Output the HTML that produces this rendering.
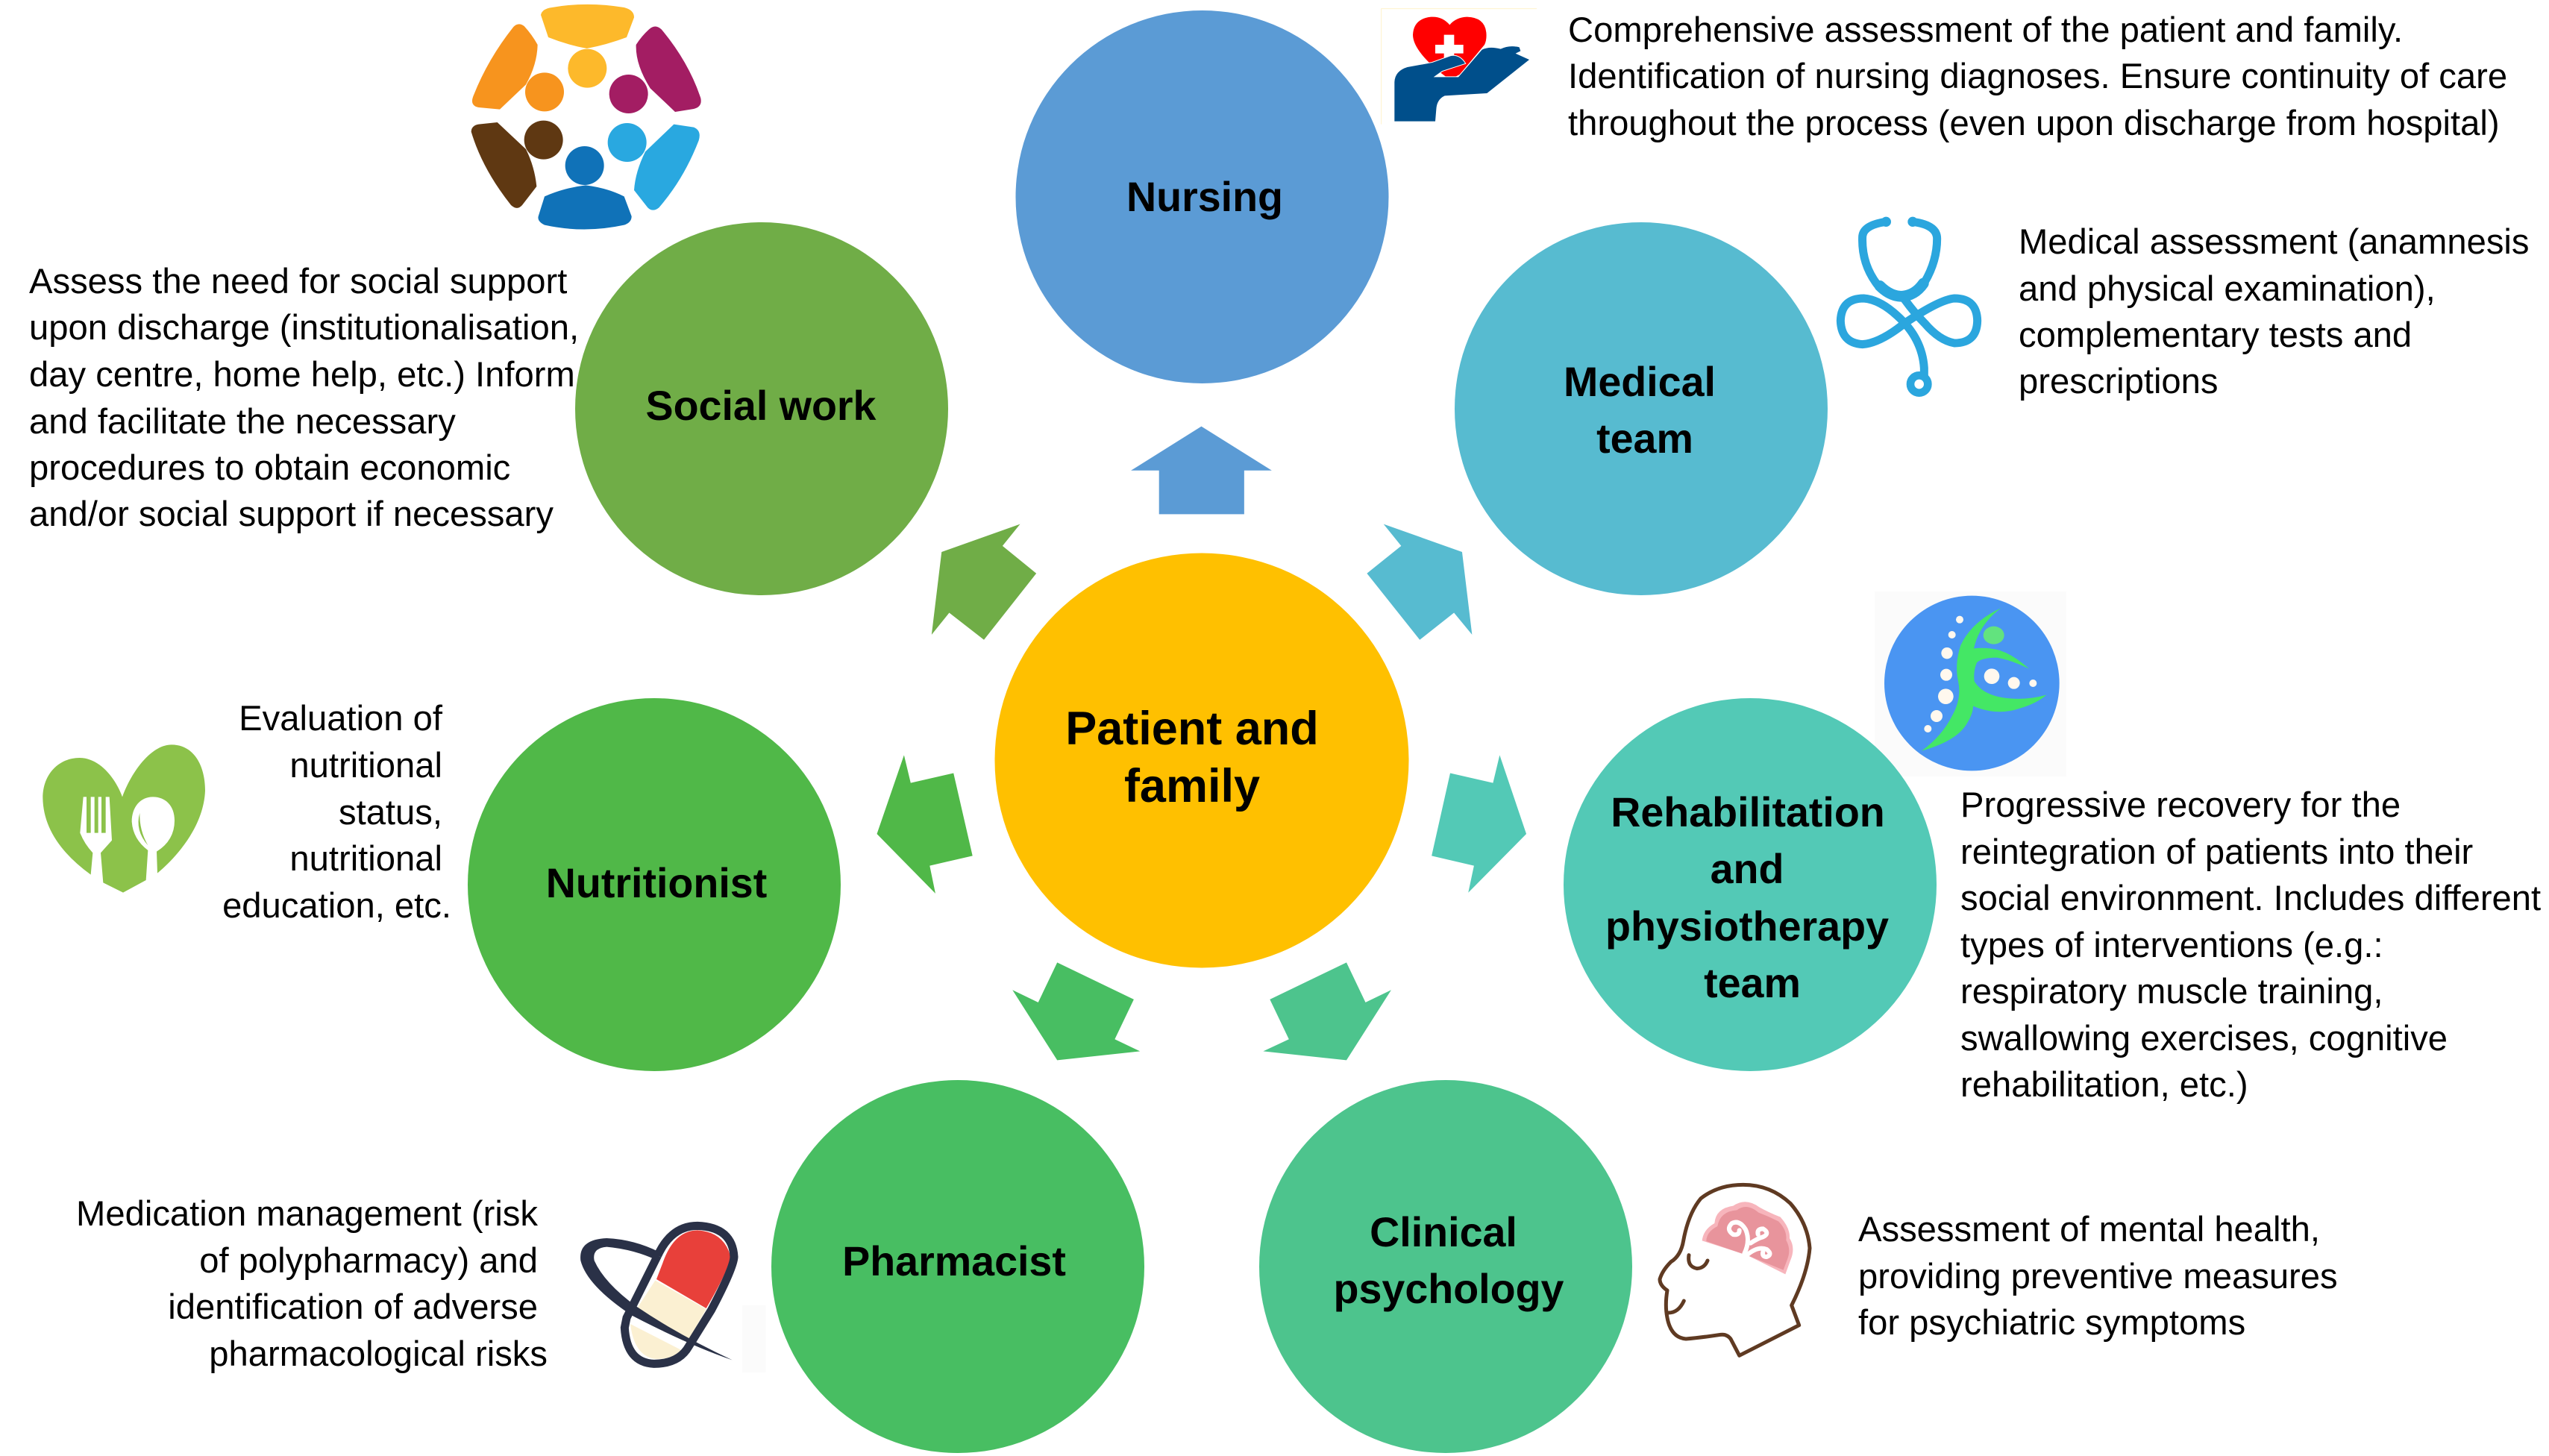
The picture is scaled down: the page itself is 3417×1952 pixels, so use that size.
<!DOCTYPE html>
<html lang="en">
<head>
<meta charset="utf-8">
<title>Patient and family multidisciplinary care</title>
<style>
html,body{margin:0;padding:0;background:#fff;width:3417px;height:1952px;overflow:hidden}
svg{display:block}
text{font-family:"Liberation Sans",sans-serif;fill:#000}
.t{font-size:47.2px}
.e{font-size:47.2px;text-anchor:end}
.b{font-size:55.6px;font-weight:bold;text-anchor:middle}
.c{font-size:63px;font-weight:bold;text-anchor:middle}
</style>
</head>
<body>
<svg width="3417" height="1952" viewBox="0 0 3417 1952" xmlns="http://www.w3.org/2000/svg">
<rect width="3417" height="1952" fill="#fff"/>

<!-- physiotherapy icon background sits behind the circles -->
<rect x="2513" y="793" width="257" height="248" fill="#FBFBFB"/>

<!-- circles -->
<circle cx="1611.5" cy="264" r="250" fill="#5B9BD5"/>
<circle cx="2200" cy="548" r="250" fill="#57BBD0"/>
<circle cx="2346" cy="1186" r="250" fill="#53C9B6"/>
<circle cx="1938" cy="1698" r="250" fill="#4DC48D"/>
<circle cx="1284" cy="1698" r="250" fill="#48BE62"/>
<circle cx="877" cy="1186" r="250" fill="#50B848"/>
<circle cx="1021" cy="548" r="250" fill="#70AD47"/>
<ellipse cx="1611" cy="1019.5" rx="277.5" ry="278" fill="#FFC000"/>

<!-- arrows -->
<g transform="translate(1150,540) scale(0.63776,0.5746)">
<polygon fill="#5B9BD5" points="722,55 870,158 812,158 812,260 633,260 633,158 574,158"/>
<polygon fill="#70AD47" points="341,283 176,348 155,541 192,490 265,553 375,398 304,334"/>
<polygon fill="#57BBD0" points="1105,283 1270,348 1291,541 1253,490 1181,553 1070,398 1142,334"/>
<polygon fill="#50B848" points="97,822 40,1006 163,1145 151,1080 241,1057 201,864 111,887"/>
<polygon fill="#53C9B6" points="1349,822 1405,1006 1283,1143 1295,1080 1206,1057 1245,864 1335,887"/>
<polygon fill="#48BE62" points="419,1306 580,1392 540,1485 593,1513 419,1534 325,1370 379,1399"/>
<polygon fill="#4DC48D" points="1027,1306 866,1392 906,1485 852,1513 1027,1534 1121,1370 1067,1399"/>
</g>

<!-- people icon -->
<g transform="translate(550,0) scale(0.33333)">
<path fill="#FDB92B" d="M525 60Q530 35 570 30Q710 5 860 30Q900 40 900 70L870 150Q790 180 710 195Q630 180 555 150Z"/>
<circle cx="712" cy="275" r="78" fill="#FDB92B"/>
<path fill="#F7941E" d="M415 108Q435 88 458 105Q490 140 512 180Q510 260 465 340L360 440L275 432Q240 425 252 390Q310 240 415 108Z"/>
<circle cx="540" cy="370" r="78" fill="#F7941E"/>
<path fill="#A31D63" d="M960 118Q985 95 1010 118Q1120 250 1168 395Q1175 430 1140 438L1065 450L965 355Q905 260 908 180Q930 145 960 118Z"/>
<circle cx="878" cy="378" r="78" fill="#A31D63"/>
<path fill="#5F3812" d="M245 530Q245 505 275 500L350 492L465 600Q500 670 508 750L450 825Q430 848 405 825Q290 680 245 530Z"/>
<circle cx="536" cy="563" r="78" fill="#5F3812"/>
<path fill="#29A8E0" d="M1060 500L1140 512Q1172 525 1160 565Q1100 720 1000 835Q975 855 955 835L900 765Q905 690 945 610Z"/>
<circle cx="872" cy="573" r="78" fill="#29A8E0"/>
<path fill="#1072B8" d="M540 790Q620 755 705 745Q790 755 860 790L890 870Q890 895 860 905Q700 940 540 905Q510 890 515 870Z"/>
<circle cx="701" cy="666" r="78" fill="#1072B8"/>
</g>

<!-- heart in hand icon -->
<g transform="translate(1820,0) scale(0.33333)">
<path d="M95 500V35H720" fill="none" stroke="#FFF2CC" stroke-width="3"/>
<path fill="#FF0000" d="M370 100Q340 65 295 68Q225 75 222 140Q222 200 330 290L370 320L410 300L510 180Q520 160 517 130Q510 70 440 68Q395 70 370 100Z"/>
<path fill="#fff" d="M347 140H388V180H425V215H388V250H347V215H312V180H347Z"/>
<path fill="#004F8B" stroke="#fff" stroke-width="6" paint-order="stroke" d="M148 488L148 330Q150 285 200 270L300 252L375 225Q410 220 432 255L340 285L305 310L405 310L500 200Q530 185 575 197Q610 180 650 190L655 205L635 215L690 240L520 375L350 385Q318 400 316 440L312 488Z"/>
</g>

<!-- stethoscope icon -->
<g transform="translate(2420,260) scale(0.33333)" fill="none" stroke="#2BA6DE" stroke-width="33" stroke-linecap="round">
<path d="M325 112Q235 125 230 170Q225 280 290 365Q340 410 385 408Q450 405 480 355Q530 270 530 180Q530 125 432 112"/>
<path d="M300 370Q340 410 385 412Q440 410 475 360" stroke-width="44"/>
<path d="M400 425Q440 480 480 520Q540 590 600 600Q690 600 692 510Q690 420 600 420Q540 425 400 520Q300 600 230 605Q145 600 142 510Q145 420 235 420Q300 425 370 490Q470 580 478 700L478 730"/>
<circle cx="325" cy="112" r="8" stroke-width="24"/>
<circle cx="432" cy="112" r="8" stroke-width="24"/>
<circle cx="458" cy="765" r="35" stroke-width="32"/>
</g>

<!-- physiotherapy icon -->
<g transform="translate(2500,780) scale(0.33333)">
<circle cx="430" cy="408" r="352" fill="#4A95F2"/>
<path fill="#44E765" d="M548 105Q430 160 385 255Q360 330 375 400Q390 470 350 540Q310 620 228 680Q370 640 410 570Q435 530 435 500Q530 540 620 510Q690 490 730 455Q640 480 550 465Q470 450 440 400Q435 360 450 325Q470 305 530 305Q590 315 660 350Q600 295 540 275Q490 262 438 268Q460 170 548 105Z"/>
<ellipse cx="518" cy="215" rx="42" ry="36" fill="#62E37E"/>
<g fill="#FFF8EE">
<circle cx="381" cy="152" r="15"/><circle cx="350" cy="213" r="15"/><circle cx="330" cy="287" r="23"/>
<circle cx="327" cy="374" r="24"/><circle cx="325" cy="461" r="31"/><circle cx="288" cy="540" r="24"/>
<circle cx="253" cy="591" r="15"/><circle cx="510" cy="380" r="31"/><circle cx="599" cy="407" r="24"/><circle cx="676" cy="408" r="15"/>
</g>
</g>

<!-- head icon -->
<g transform="translate(2200,1560) scale(0.33333)">
<path fill="#F7B5BC" d="M245 310Q250 265 295 240Q300 180 370 170Q420 135 475 175Q510 195 560 215Q600 260 597 300Q622 340 600 390L580 445L430 370L400 360Z"/>
<path fill="#E8949C" d="M262 312Q262 275 307 252Q317 192 385 187Q425 157 472 197Q512 212 552 232Q588 268 583 308Q604 345 588 385L572 428L430 370L400 360Z"/>
<g fill="none" stroke="#fff" stroke-width="18" stroke-linecap="round">
<path d="M415 362Q440 310 420 265Q395 225 365 240Q340 265 370 285Q395 290 395 268"/>
<path d="M425 368Q470 330 505 345Q530 365 505 375Q485 375 490 355"/>
<path d="M440 320Q470 300 490 295Q520 280 490 262Q465 262 470 285"/>
</g>
<g fill="none" stroke="#5F3A22" stroke-width="15" stroke-linecap="round" stroke-linejoin="round">
<path d="M635 650L395 772L360 705Q345 685 320 688Q240 700 180 705Q120 700 105 620Q95 570 105 510Q75 490 75 465Q85 430 120 395Q160 370 170 310Q190 200 240 140Q310 85 410 85Q520 85 600 160Q670 240 678 340Q670 440 605 570Z"/>
<path d="M192 368Q185 415 225 422Q255 420 267 390"/>
<path d="M110 600Q150 600 172 552"/>
</g>
</g>

<!-- pill icon -->
<g transform="translate(750,1600) scale(0.33333)">
<rect x="735" y="450" width="95" height="270" fill="#FBFBFB"/>
<path fill="#E8403A" d="M390 345L415 280Q460 150 555 148Q660 155 687 250Q685 300 590 462Z"/>
<path fill="#FBF0D2" d="M385 350L590 465L515 595L312 462Z"/>
<path fill="#FBF0D2" d="M285 525L490 630Q450 670 380 665Q300 650 285 525Z"/>
<path fill="none" stroke="#2A3147" stroke-width="33" d="M395 250Q450 130 555 130Q695 135 702 255Q700 300 610 470L520 615Q480 685 380 685Q270 680 262 540L270 500L395 250"/>
<path fill="#2A3147" d="M695 670Q520 610 290 490Q110 370 85 270Q75 185 190 180Q300 185 400 235L395 270Q300 225 190 215Q130 220 140 270Q180 360 310 455Q480 570 695 670Z"/>
</g>

<!-- nutrition icon -->
<g transform="translate(30,970) scale(0.33333)" fill="#8CC24A">
<path d="M275 608Q85 470 82 300C82 200 150 138 230 138C310 138 375 220 402 295C440 190 520 85 600 85C690 85 735 170 735 270C730 400 640 520 543 602L540 515Q612 470 612 390C612 330 575 295 525 295C475 295 440 335 440 395Q445 465 505 510L497 630L405 680L325 640L315 520L360 470L350 295L335 295L335 440L318 440L318 295L305 295L305 440L290 440L290 295L275 295L275 440L258 440L258 295L245 295L232 440Q250 485 283 520Z"/>
<path d="M472 360Q452 430 505 490Q470 430 472 360Z"/>
</g>

<!-- circle labels -->
<text class="c" x="1598" y="998">Patient and</text>
<text class="c" x="1598" y="1075">family</text>
<text class="b" x="1615" y="283">Nursing</text>
<text class="b" x="2198" y="531">Medical</text>
<text class="b" x="2205" y="607">team</text>
<text class="b" x="2343" y="1108">Rehabilitation</text>
<text class="b" x="2342" y="1184">and</text>
<text class="b" x="2342" y="1261">physiotherapy</text>
<text class="b" x="2349" y="1337">team</text>
<text class="b" x="1935" y="1671">Clinical</text>
<text class="b" x="1942" y="1747">psychology</text>
<text class="b" x="1279" y="1710">Pharmacist</text>
<text class="b" x="880" y="1203">Nutritionist</text>
<text class="b" x="1020" y="563">Social work</text>

<!-- nursing text -->
<text class="t" x="2102" y="56">Comprehensive assessment of the patient and family.</text>
<text class="t" x="2102" y="118">Identification of nursing diagnoses. Ensure continuity of care</text>
<text class="t" x="2102" y="181">throughout the process (even upon discharge from hospital)</text>

<!-- medical text -->
<text class="t" x="2706" y="340">Medical assessment (anamnesis</text>
<text class="t" x="2706" y="403">and physical examination),</text>
<text class="t" x="2706" y="465">complementary tests and</text>
<text class="t" x="2706" y="527">prescriptions</text>

<!-- rehab text -->
<text class="t" x="2628" y="1095">Progressive recovery for the</text>
<text class="t" x="2628" y="1158">reintegration of patients into their</text>
<text class="t" x="2628" y="1220">social environment. Includes different</text>
<text class="t" x="2628" y="1283">types of interventions (e.g.:</text>
<text class="t" x="2628" y="1345">respiratory muscle training,</text>
<text class="t" x="2628" y="1408">swallowing exercises, cognitive</text>
<text class="t" x="2628" y="1470">rehabilitation, etc.)</text>

<!-- psychology text -->
<text class="t" x="2491" y="1664">Assessment of mental health,</text>
<text class="t" x="2491" y="1727">providing preventive measures</text>
<text class="t" x="2491" y="1789">for psychiatric symptoms</text>

<!-- pharmacist text -->
<text class="e" x="721" y="1643">Medication management (risk</text>
<text class="e" x="721" y="1706">of polypharmacy) and</text>
<text class="e" x="721" y="1768">identification of adverse</text>
<text class="e" x="734" y="1831">pharmacological risks</text>

<!-- nutritionist text -->
<text class="e" x="593" y="979">Evaluation of</text>
<text class="e" x="593" y="1042">nutritional</text>
<text class="e" x="593" y="1105">status,</text>
<text class="e" x="593" y="1167">nutritional</text>
<text class="e" x="605" y="1230">education, etc.</text>

<!-- social text -->
<text class="t" x="39" y="393">Assess the need for social support</text>
<text class="t" x="39" y="455">upon discharge (institutionalisation,</text>
<text class="t" x="39" y="518">day centre, home help, etc.) Inform</text>
<text class="t" x="39" y="581">and facilitate the necessary</text>
<text class="t" x="39" y="643">procedures to obtain economic</text>
<text class="t" x="39" y="705">and/or social support if necessary</text>
</svg>
</body>
</html>
